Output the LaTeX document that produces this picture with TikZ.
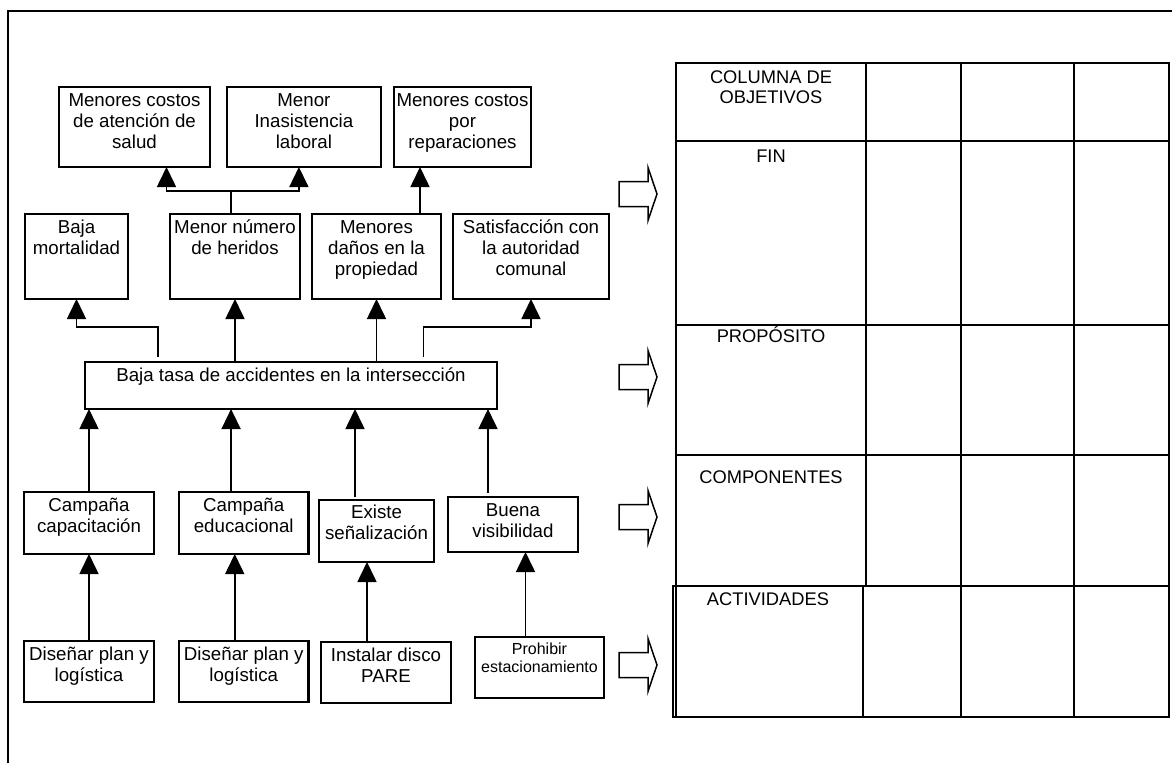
\documentclass[tikz,border=0pt]{standalone}
\usepackage{fontspec}
\setmainfont{Liberation Sans}
\usetikzlibrary{arrows.meta,calc}
% name, x, y, width, height, style, first-baseline, text
\newcommand\bx[8]{\node[#6,anchor=north west,inner sep=0pt,outer sep=0pt] (#1) at (#2,#3)
  {\parbox[t][#5pt][t]{#4pt}{\centering\rule{0pt}{#7pt}#8\par}};}
\newcommand\blkarrow[1]{\draw[blk] (619,#1-12.5) -- (648,#1-12.5) -- (648,#1-26.5) -- (657,#1)
  -- (648,#1+26.5) -- (648,#1+12.5) -- (619,#1+12.5) -- cycle;}
\begin{document}
\begin{tikzpicture}[x=1pt,y=-1pt,
  font=\fontsize{18.7pt}{21pt}\selectfont,
  box/.style={draw,line width=2pt},
  tbox/.style={draw,line width=2.3pt},
  small/.style={draw,line width=2pt,font=\fontsize{16pt}{18pt}\selectfont},
  conn/.style={line width=1.6pt},
  arr/.style={line width=1.6pt,-{Triangle[width=19pt,length=20pt]}},
  tline/.style={line width=1.8pt},
  blk/.style={draw,line width=1.5pt},
  ttext/.style={font=\fontsize{18.3pt}{20pt}\selectfont,inner sep=0pt}]
\useasboundingbox (0,0) rectangle (1172,763);
% outer frame
\draw[line width=2pt] (8,763) -- (8,11) -- (1172,11);

% top row
\bx{t1}{59.3}{87}{150.4}{80}{box}{19}{Menores costos\\de atención de\\salud}
\bx{t2}{226.6}{87}{154.6}{80}{box}{19}{Menor\\Inasistencia\\laboral}
\bx{t3}{393.8}{87}{137.4}{80}{box}{19}{Menores costos\\por\\reparaciones}
% second row
\bx{m1}{25}{214}{103}{85}{box}{19}{Baja\\mortalidad}
\bx{m2}{170}{214}{130}{85}{box}{19}{Menor número\\de heridos}
\bx{m3}{312}{214}{129}{85}{box}{19}{Menores\\daños en la\\propiedad}
\bx{m4}{453}{214}{156}{85}{box}{19}{Satisfacción con\\la autoridad\\comunal}
% purpose
\bx{tasa}{85}{362}{412}{47}{box}{19}{Baja tasa de accidentes en la intersección}
% components
\bx{c1}{24}{492}{130}{62}{tbox}{19.5}{Campaña\\capacitación}
\bx{c2}{179}{492}{129.5}{62}{tbox}{19.5}{Campaña\\educacional}
\bx{c3}{319}{500}{115}{62}{tbox}{18.5}{Existe\\señalización}
\bx{c4}{448}{497}{130}{55}{tbox}{19}{Buena\\visibilidad}
% activities
\bx{a1}{24}{641}{130}{61}{tbox}{19}{Diseñar plan y\\logística}
\bx{a2}{179}{641}{129.5}{61}{tbox}{19}{Diseñar plan y\\logística}
\bx{a3}{321}{642}{130}{61}{tbox}{19}{Instalar disco\\PARE}
\bx{a4}{475}{637}{129}{61}{small}{17}{Prohibir\\estacionamiento}

% connectors: second row -> top row
\coordinate (j1) at ($(m2.north)+(-4,-23)$);
\draw[conn] ($(m2.north)+(-4,0)$) -- (j1);
\draw[arr] (j1) -| ($(t1.south)+(32,0)$);
\draw[arr] (j1) -| ($(t2.south)+(-5,0)$);
\draw[arr] ($(m3.north)+(43.5,0)$) -- ($(t3.south)+(-42.5,0)$);

% purpose -> second row
\draw[arr] ($(tasa.north west)+(72.7,-5)$) -- ++(0,-30) -| (m1.south);
\draw[arr] (tasa.north -| m2.south) -- (m2.south);
\draw[arr] (tasa.north -| m3.south) -- (m3.south);
\draw[arr] ($(tasa.north west)+(338.6,-5)$) -- ++(0,-30) -| (m4.south);

% components -> purpose
\coordinate (c1u) at (c1.north);
\coordinate (c2u) at ($(c2.north)+(-12.7,0)$);
\coordinate (c3u) at ($(c3.north)+(-21.5,3)$);
\coordinate (c4u) at ($(c4.north)+(-25,4)$);
\draw[arr] (c1u) -- (c1u |- tasa.south);
\draw[arr] (c2u) -- (c2u |- tasa.south);
\draw[arr] ($(c3u)+(0,-6)$) -- (c3u |- tasa.south);
\draw[arr] ($(c4u)+(0,-8)$) -- (c4u |- tasa.south);

% activities -> components
\coordinate (a1u) at (a1.north);
\coordinate (a2u) at ($(a2.north)+(-9,0)$);
\coordinate (a3u) at ($(a3.north)+(-19,0)$);
\coordinate (a4u) at ($(a4.north)+(-14,0)$);
\draw[arr] (a1u) -- (a1u |- c1.south);
\draw[arr] (a2u) -- (a2u |- c2.south);
\draw[arr] (a3u) -- (a3u |- c3.south);
\draw[arr] (a4u) -- (a4u |- c4.south);

% block arrows
\blkarrow{194}
\blkarrow{377}
\blkarrow{517}
\blkarrow{665}

% table
\draw[tline] (676,63) rectangle (1169,717);
\foreach \yy in {141,325,455,586} \draw[tline] (676,\yy) -- (1169,\yy);
\draw[tline] (866,63) -- (866,586);
\foreach \xx in {961,1074} \draw[tline] (\xx,63) -- (\xx,717);
\draw[tline] (673,586) rectangle (863,717);

\node[ttext,anchor=north] (hdr) at (771,63)
  {\parbox[t]{190pt}{\centering\rule{0pt}{20pt}COLUMNA DE\\OBJETIVOS\par}};
\node[ttext,anchor=base] (fin) at (771,162) {FIN};
\node[ttext,anchor=base] (prop) at (771,342.7) {PROPÓSITO};
\node[ttext,anchor=base] (comp) at (771,483) {COMPONENTES};
\node[ttext,anchor=base] (act) at (768,605) {ACTIVIDADES};
\end{tikzpicture}
\end{document}
